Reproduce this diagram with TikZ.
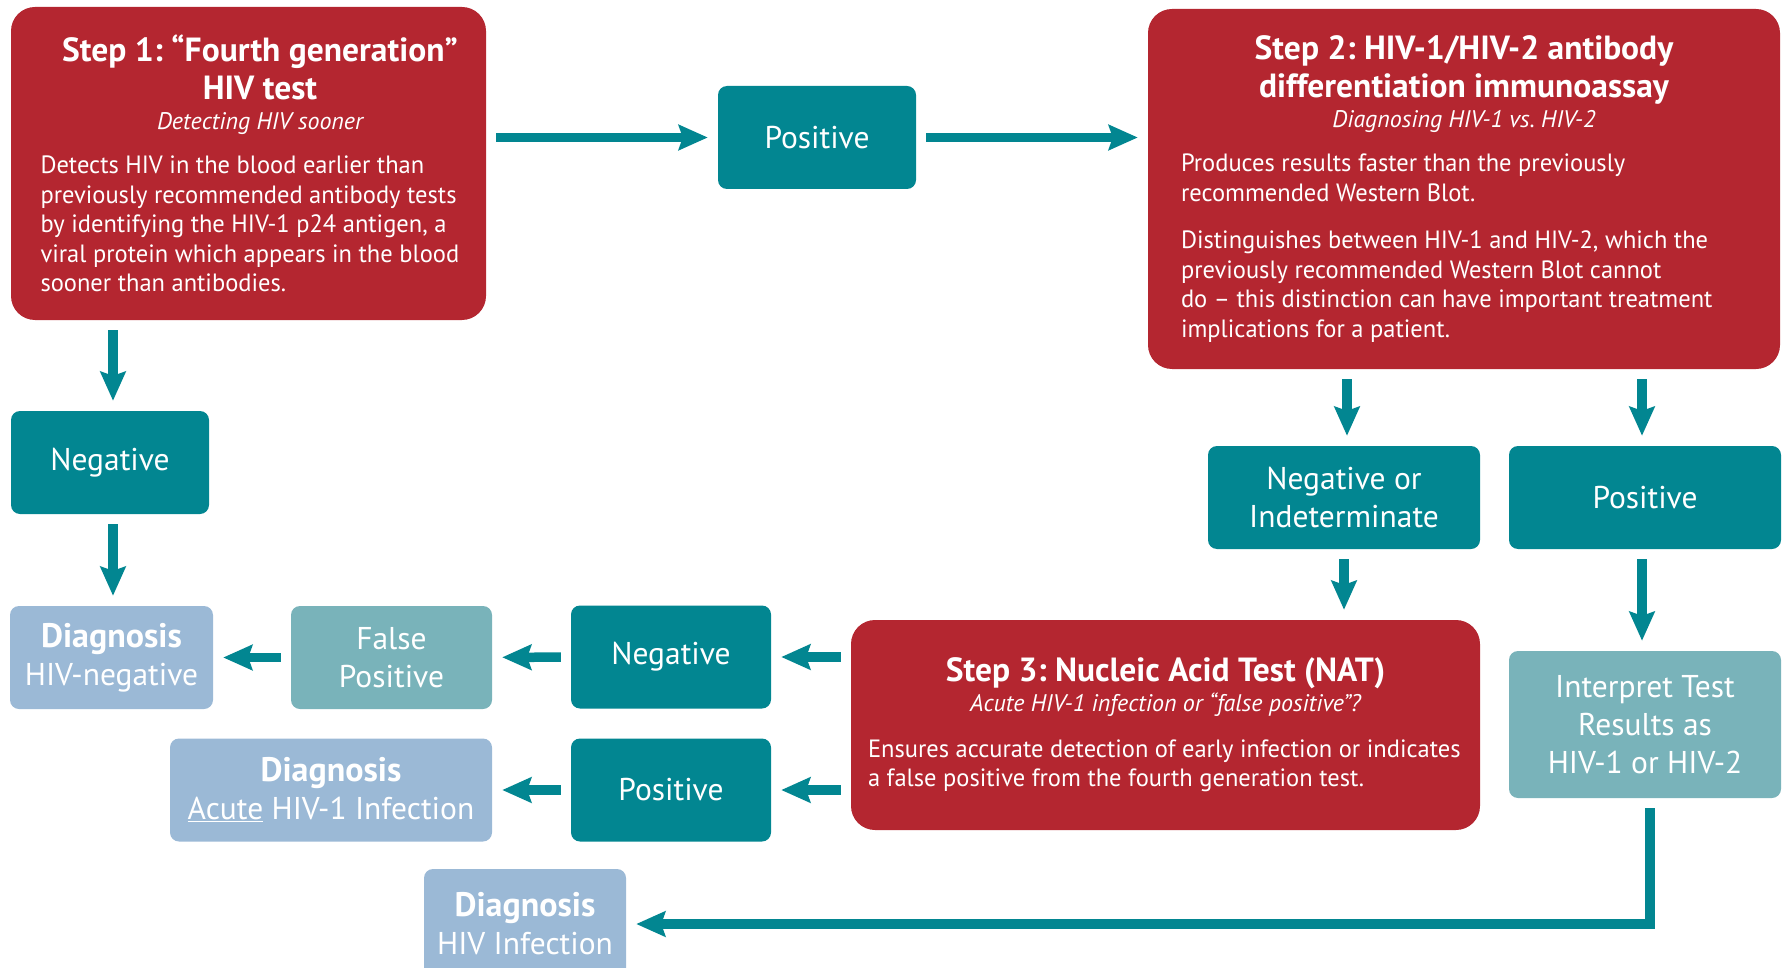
\documentclass[tikz,border=0pt]{standalone}
\usepackage{fontspec}
\setmainfont{PT Sans}
\newfontfamily\condfont[FakeStretch=0.98]{PT Sans}
\usepackage{xcolor}
\definecolor{stepred}{RGB}{180,38,48}
\definecolor{darkteal}{RGB}{2,134,145}
\definecolor{paleteal}{RGB}{121,179,186}
\definecolor{diagblue}{RGB}{155,185,214}
\usetikzlibrary{
  arrows.meta,
}
\setlength{\parindent}{0pt}
\frenchspacing
\newcommand{\plainspaces}{\spaceskip=0pt\xspaceskip=0pt\frenchspacing}
\newcommand{\steptitle}[1]{{\centering\bfseries\fontsize{33.5}{38}\selectfont\plainspaces #1\par}}
\newcommand{\stepsub}[1]{{\centering\itshape\fontsize{24}{30}\selectfont\plainspaces #1\par}}
\newcommand{\stepbody}[1]{{\raggedright\condfont\fontsize{25}{29.5}\selectfont\plainspaces #1\par}}
\newcommand{\diaghead}{{\bfseries\fontsize{34}{38}\selectfont Diagnosis}}

\begin{document}
\begin{tikzpicture}[x=1pt, y=-1pt]
	\tikzstyle{every node}=[text=white, font=\fontsize{31.5}{38}\selectfont]
	\tikzstyle{stepbox}=[fill=stepred, rounded corners=24pt]
	\tikzstyle{tealbox}=[fill=darkteal, rounded corners=9pt, align=center, minimum width=200pt, minimum height=103pt]
	\tikzstyle{paletealbox}=[fill=paleteal, rounded corners=9pt, align=center, minimum width=201pt, minimum height=103pt]
	\tikzstyle{diagbox}=[fill=diagblue, rounded corners=9pt, align=center, minimum width=202pt, minimum height=103pt]
	\tikzstyle{arrowline}=[draw=darkteal, line width=9.5pt, -{Stealth[length=29pt, width=25pt, inset=4pt]}, shorten <=10pt, shorten >=10pt]
	\useasboundingbox (0,0) rectangle (1782,968);
	% Step boxes
	\node (step1) [stepbox, minimum width=475pt, minimum height=313pt, text width=430pt] at (248.5,163.5) {%
		\steptitle{\advance\leftskip by 23pt Step 1: “Fourth generation”\\HIV test}
		\stepsub{\advance\leftskip by 23pt Detecting HIV sooner}
		\vspace{15pt}
		\stepbody{\leftskip=7pt Detects HIV in the blood earlier than\\previously recommended antibody tests\\by identifying the HIV-1 p24 antigen, a\\viral protein which appears in the blood\\sooner than antibodies.}};
	\node (step2) [stepbox, minimum width=632pt, minimum height=360pt, text width=566pt] at (1464,189) {%
		\steptitle{Step 2: HIV-1/HIV-2 antibody\\differentiation immunoassay}
		\stepsub{Diagnosing HIV-1 vs. HIV-2}
		\vspace{15pt}
		\stepbody{Produces results faster than the previously\\recommended Western Blot.}
		\vspace{18pt}
		\stepbody{Distinguishes between HIV-1 and HIV-2, which the\\previously recommended Western Blot cannot\\do – this distinction can have important treatment\\implications for a patient.}};
	\node (step3) [stepbox, minimum width=629pt, minimum height=210pt, text width=595pt] at (1165.5,725) {%
		\steptitle{Step 3: Nucleic Acid Test (NAT)}
		\stepsub{Acute HIV-1 infection or “false positive”?}
		\vspace{16pt}
		\stepbody{Ensures accurate detection of early infection or indicates\\a false positive from the fourth generation test.}};
	% Results
	\node (pos1) [tealbox, minimum width=198pt] at (817,137.5) {Positive};
	\node (neg1) [tealbox, minimum width=198pt] at (110,462.5) {Negative};
	\node (negind) [tealbox, minimum width=272pt] at (1344,497.5) {Negative or\\Indeterminate};
	\node (pos2) [tealbox, minimum width=272pt] at (1645,497.5) {Positive};
	\node (neg2) [tealbox] at (671,657) {Negative};
	\node (pos3) [tealbox] at (671,790) {Positive};
	\node (falsepos) [paletealbox] at (391.5,657.5) {False\\Positive};
	\node (interp) [paletealbox, minimum width=272pt, minimum height=147pt] at (1645,724.5) {Interpret Test\\Results as\\HIV-1 or HIV-2};
	% Diagnoses
	\node (diagneg) [diagbox, minimum width=203pt] at (111.5,657.5) {\diaghead\\HIV-negative};
	\node (diagacute) [diagbox, minimum width=322pt] at (331,790) {\diaghead\\\underline{Acute} HIV-1 Infection};
	\node (diaginf) [diagbox, minimum height=110pt] at (525,924) {\diaghead\\HIV Infection};
	% Arrows
	\draw [arrowline] (step1.east |- pos1) -- (pos1);
	\draw [arrowline] (pos1) -- (pos1 -| step2.west);
	\draw [arrowline] ([xshift=3pt]step1.south -| neg1) -- ([xshift=3pt]neg1.north);
	\draw [arrowline] ([xshift=3pt]neg1.south) -- ([xshift=3pt]neg1 |- diagneg.north);
	\draw [arrowline] ([xshift=3pt]step2.south -| negind) -- ([xshift=3pt]negind.north);
	\draw [arrowline] ([xshift=-3pt]step2.south -| pos2) -- ([xshift=-3pt]pos2.north);
	\draw [arrowline] (negind) -- (negind |- step3.north);
	\draw [arrowline] ([xshift=-3pt]pos2.south) -- ([xshift=-3pt]interp.north);
	\draw [arrowline] (step3.west |- neg2) -- (neg2);
	\draw [arrowline] (neg2) -- (falsepos);
	\draw [arrowline] (falsepos) -- (diagneg);
	\draw [arrowline] (step3.west |- pos3) -- (pos3);
	\draw [arrowline] (pos3) -- (diagacute);
	\draw [arrowline] ([xshift=5pt]interp.south) |- (diaginf);
\end{tikzpicture}
\end{document}
